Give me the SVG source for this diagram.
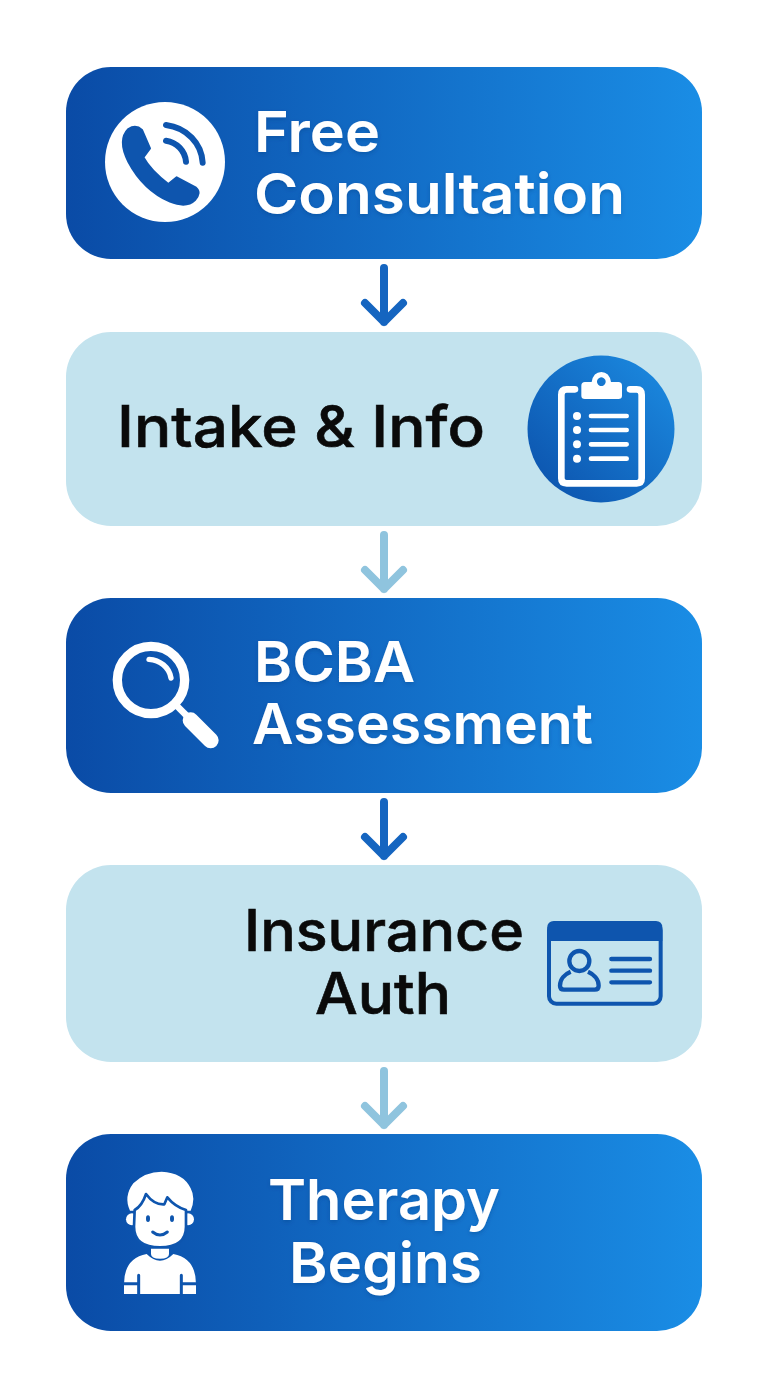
<svg xmlns="http://www.w3.org/2000/svg" width="768" height="1376" viewBox="0 0 768 1376">
<style>
.t{font-family:Inter,"Liberation Sans",sans-serif;font-size:57px;font-weight:600}
.w{fill:#fff;filter:url(#ts)}
.k{fill:#0a0a0a;font-weight:500;stroke:#0a0a0a;stroke-width:.6}
.arrow{fill:none;stroke-width:8;stroke-linecap:round;stroke-linejoin:round}
.d{stroke:#1565c0}
.l{stroke:#8fc4de}
</style>
<defs>
<linearGradient id="g" x1="0" y1="0" x2="1" y2="0"><stop offset="0" stop-color="#0a4ba6"/><stop offset="1" stop-color="#1a8de5"/></linearGradient>
<linearGradient id="c" x1="0" y1="1" x2="1" y2="0"><stop offset="0" stop-color="#0b4fa9"/><stop offset="1" stop-color="#1c8de3"/></linearGradient>
<filter id="ts" x="-10%" y="-20%" width="120%" height="150%"><feDropShadow dx="0" dy="2" stdDeviation="2" flood-color="#063a80" flood-opacity=".35"/></filter>
</defs>
<rect width="768" height="1376" fill="#fff"/>
<g id="connectors">
<path class="arrow d" d="M384 268V322M365 303L384 322L403 303"/>
<path class="arrow l" d="M384 535V589M365 570L384 589L403 570"/>
<path class="arrow d" d="M384 802V856M365 837L384 856L403 837"/>
<path class="arrow l" d="M384 1071V1125M365 1106L384 1125L403 1106"/>
</g>
<g id="node-consultation">
<rect x="66" y="67" width="636" height="192" rx="45" fill="url(#g)"/>
<circle cx="165" cy="162" r="60" fill="#fff"/>
<g transform="translate(60 60) scale(.33333)">
<path fill="#0e55ae" stroke="#0e55ae" stroke-width="6" stroke-linejoin="round" d="M205 207Q228 193 246 210L270 265L250 292Q272 332 325 372L350 352L408 383Q425 398 405 420Q380 445 330 425Q250 390 205 305Q172 240 205 207Z"/>
<path fill="none" stroke="#0e55ae" stroke-width="18" stroke-linecap="round" d="M318 195C380 203 425 250 428 308M318 242C350 247 375 272 378 305"/>
</g>
<text class="t w" x="254" y="152" textLength="126" lengthAdjust="spacingAndGlyphs">Free</text>
<text class="t w" x="254" y="214" textLength="371" lengthAdjust="spacingAndGlyphs">Consultation</text>
</g>
<g id="node-intake">
<rect x="66" y="332" width="636" height="194" rx="45" fill="#c3e3ee"/>
<circle cx="601" cy="429" r="73.5" fill="url(#c)"/>
<g transform="translate(510 340) scale(.33333)">
<path fill="none" stroke="#fff" stroke-width="20" stroke-linejoin="round" stroke-linecap="round" d="M195 148H170Q154 148 154 164V415Q154 430 170 430H380Q395 430 395 415V164Q395 148 380 148H360"/>
<path fill="#fff" fill-rule="evenodd" d="M225 126H245Q250 96 274 96Q298 96 303 126H325Q336 126 336 137V167Q336 177 325 177H225Q214 177 214 167V137Q214 126 225 126ZM274 112a13 13 0 1 0 .01 0Z"/>
<g fill="#fff"><circle cx="201" cy="228" r="12"/><circle cx="201" cy="270" r="12"/><circle cx="201" cy="313" r="12"/><circle cx="201" cy="356" r="12"/></g>
<path fill="none" stroke="#fff" stroke-width="14" stroke-linecap="round" d="M243 228H350M243 270H350M243 313H350M243 356H350"/>
</g>
<text class="t k" x="117" y="447" textLength="368" lengthAdjust="spacingAndGlyphs">Intake &amp; Info</text>
</g>
<g id="node-assessment">
<rect x="66" y="598" width="636" height="195" rx="45" fill="url(#g)"/>
<g transform="translate(90 620) scale(.33333)">
<circle cx="183" cy="180" r="101" fill="none" stroke="#fff" stroke-width="28"/>
<path fill="none" stroke="#fff" stroke-width="16" stroke-linecap="round" d="M177 118C210 120 238 142 243 174"/>
<path fill="none" stroke="#fff" stroke-width="20" d="M258 255L295 292"/>
<path fill="none" stroke="#fff" stroke-width="48" stroke-linecap="round" d="M302 301L362 361"/>
</g>
<text class="t w" x="254" y="682" textLength="161" lengthAdjust="spacingAndGlyphs">BCBA</text>
<text class="t w" x="252" y="744" textLength="341" lengthAdjust="spacingAndGlyphs">Assessment</text>
</g>
<g id="node-insurance">
<rect x="66" y="865" width="636" height="197" rx="45" fill="#c3e3ee"/>
<g transform="translate(530 905) scale(.33333)">
<rect x="57" y="54" width="335" height="242" rx="22" fill="none" stroke="#0e55ae" stroke-width="12"/>
<path fill="#0e55ae" d="M72 48H377Q397 48 397 68V108H52V68Q52 48 72 48Z"/>
<circle cx="148" cy="168" r="30" fill="none" stroke="#0e55ae" stroke-width="13"/>
<path fill="none" stroke="#0e55ae" stroke-width="13" stroke-linejoin="round" d="M122 200C105 207 90 222 90 242Q90 254 102 254H194Q206 254 206 242C206 222 190 207 174 200"/>
<path fill="none" stroke="#0e55ae" stroke-width="13" stroke-linecap="round" d="M244 162H360M244 197H360M244 232H360"/>
</g>
<text class="t k" x="244" y="951" textLength="280" lengthAdjust="spacingAndGlyphs">Insurance</text>
<text class="t k" x="315" y="1014" textLength="136" lengthAdjust="spacingAndGlyphs">Auth</text>
</g>
<g id="node-therapy">
<rect x="66" y="1134" width="636" height="197" rx="45" fill="url(#g)"/>
<g transform="translate(100 1160) scale(.33333)">
<circle cx="96" cy="178" r="18" fill="#fff"/><circle cx="264" cy="178" r="18" fill="#fff"/>
<path fill="#fff" d="M90 152Q70 110 100 70Q135 35 185 35Q250 38 272 85Q288 115 272 152Z"/>
<path fill="#fff" stroke="#0e55ae" stroke-width="8" stroke-linejoin="round" d="M104 150Q126 138 138 102Q162 135 193 133L202 112Q225 140 258 150V200Q258 262 180 262Q102 262 102 200Z"/>
<ellipse cx="144" cy="176" rx="6" ry="10" fill="#0e55ae"/><ellipse cx="216" cy="176" rx="6" ry="10" fill="#0e55ae"/>
<path fill="none" stroke="#0e55ae" stroke-width="9" stroke-linecap="round" d="M158 216Q180 234 202 216"/>
<path fill="#fff" d="M153 266H207V282Q207 296 180 296Q153 296 153 282Z"/>
<path fill="#fff" d="M72 372Q72 295 140 282Q180 322 220 282Q288 295 288 372V402H72Z"/>
<path fill="none" stroke="#0e55ae" stroke-width="9" stroke-linecap="round" d="M116 346V406M244 346V406"/>
<path fill="none" stroke="#0e55ae" stroke-width="9" d="M68 371H116M244 371H292"/>
</g>
<text class="t w" x="268" y="1220" textLength="232" lengthAdjust="spacingAndGlyphs">Therapy</text>
<text class="t w" x="289" y="1283" textLength="193" lengthAdjust="spacingAndGlyphs">Begins</text>
</g>
</svg>
